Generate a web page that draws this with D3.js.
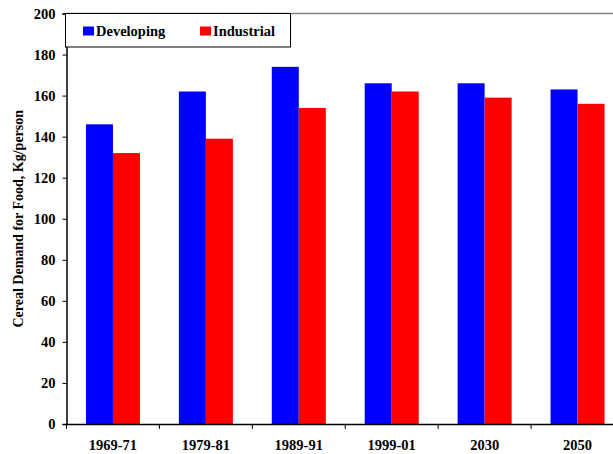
<!DOCTYPE html>
<html><head><meta charset="utf-8">
<script src="https://cdn.jsdelivr.net/npm/d3@7"></script>
<style>body{margin:0;background:#fff}svg{display:block}text{font-family:"Liberation Serif","Times New Roman",serif;font-weight:bold}</style>
</head><body><svg id="c" width="613" height="454"></svg>
<script>
const categories = ["1969-71","1979-81","1989-91","1999-01","2030","2050"];
const developing = [146,162,174,166,166,163];
const industrial = [132,139,154,162,159,156];
const seriesNames = ["Developing","Industrial"];
const colors = ["#0000ff","#ff0000"];
const yTicks = [0,20,40,60,80,100,120,140,160,180,200];

const svg = d3.select("#c");
const mLeft = 66.5, mTop = 13.5, mBottom = 424, mRight = 624;
const x = d3.scaleBand().domain(categories).range([mLeft, mRight]).paddingInner(0).paddingOuter(0);
const y = d3.scaleLinear().domain([0,200]).range([mBottom, mTop]);
const inner = d3.scaleBand().domain(seriesNames).range([0, x.bandwidth()]).paddingInner(0).paddingOuter(0.72);

// top border
svg.append("line").attr("x1",mLeft).attr("x2",613).attr("y1",mTop).attr("y2",mTop).attr("stroke","#808080").attr("stroke-width",1.5);

const data = categories.map((c,i)=>({c, vals:[developing[i], industrial[i]]}));
const g = svg.append("g");
data.forEach(d=>{
  d.vals.forEach((v,j)=>{
    g.append("rect").attr("x", x(d.c)+inner(seriesNames[j])).attr("width", inner.bandwidth())
     .attr("y", y(v)).attr("height", y(0)-y(v)).attr("fill", colors[j]);
  });
});

const ya = svg.append("g").attr("transform",`translate(${mLeft},0)`)
  .call(d3.axisLeft(y).tickValues(yTicks).tickSize(4).tickPadding(7));
ya.select(".domain").attr("stroke","#000").attr("stroke-width",1.5);
ya.selectAll(".tick line").attr("stroke","#000").attr("stroke-width",1);
ya.selectAll("text").attr("font-size",14.5).attr("font-family","Liberation Serif").attr("font-weight","bold").attr("fill","#000");

const xa = svg.append("g").attr("transform",`translate(0,${mBottom})`)
  .call(d3.axisBottom(x).tickSize(0).tickPadding(16).tickSizeOuter(0));
xa.select(".domain").attr("stroke","#000").attr("stroke-width",1.5);
xa.selectAll("text").attr("font-size",14.5).attr("font-family","Liberation Serif").attr("font-weight","bold").attr("fill","#000");
// boundary ticks between categories
categories.forEach(c=>{
  svg.append("line").attr("x1",x(c)).attr("x2",x(c)).attr("y1",mBottom).attr("y2",mBottom+5).attr("stroke","#000").attr("stroke-width",1);
});

svg.append("text").attr("transform",`translate(23,${(mTop+mBottom)/2}) rotate(-90)`)
  .attr("text-anchor","middle").attr("font-size",14).text("Cereal Demand for Food, Kg/person");

// legend
const lg = svg.append("g");
lg.append("rect").attr("x",65.5).attr("y",13.5).attr("width",225).attr("height",33.5).attr("fill","#fff").attr("stroke","#000").attr("stroke-width",1);
const lx = [83, 200];
seriesNames.forEach((s,i)=>{
  lg.append("rect").attr("x",lx[i]).attr("y",26.5).attr("width",11).attr("height",9).attr("fill",colors[i]);
  lg.append("text").attr("x",lx[i]+13).attr("y",35.5).attr("font-size",14.5).text(s);
});
</script></body></html>
